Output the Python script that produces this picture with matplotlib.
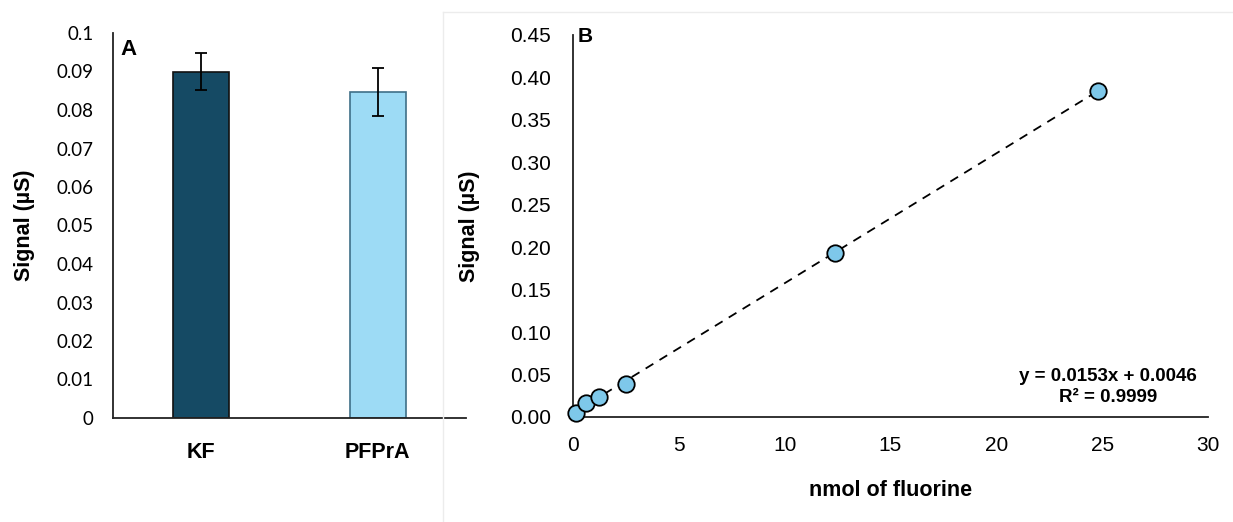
import matplotlib
matplotlib.use("Agg")
import matplotlib.pyplot as plt
from matplotlib.lines import Line2D
import numpy as np
from matplotlib import font_manager

# ---- data ----
bar_categories = ["KF", "PFPrA"]
bar_values = [0.090, 0.0847]
bar_errors = [0.0048, 0.0063]
bar_yticks = [0, 0.01, 0.02, 0.03, 0.04, 0.05, 0.06, 0.07, 0.08, 0.09, 0.1]
bar_yticklabels = ["0", "0.01", "0.02", "0.03", "0.04", "0.05", "0.06", "0.07", "0.08", "0.09", "0.1"]

cal_x = [0.16, 0.62, 1.25, 2.5, 12.4, 24.8]
cal_y = [0.005, 0.016, 0.023, 0.039, 0.193, 0.384]
cal_err = [0.0, 0.0, 0.0, 0.0, 0.002, 0.004]
fit_slope = 0.0153
fit_intercept = 0.0046
cal_xticks = [0, 5, 10, 15, 20, 25, 30]
cal_yticks = [0.00, 0.05, 0.10, 0.15, 0.20, 0.25, 0.30, 0.35, 0.40, 0.45]

names = {f.name for f in font_manager.fontManager.ttflist}
narrow = "Liberation Sans Narrow" if "Liberation Sans Narrow" in names else "Liberation Sans"
humanist = "Lato" if "Lato" in names else "DejaVu Sans"

W, H = 1233, 522
fig = plt.figure(figsize=(W / 100, H / 100), dpi=100)

def ax_rect(x0, x1, ytop, ybot):
    return [x0 / W, 1 - ybot / H, (x1 - x0) / W, (ybot - ytop) / H]

# ---- panel A ----
axA = fig.add_axes(ax_rect(113, 466, 33, 418))
xpos = np.arange(len(bar_categories))
axA.bar(xpos, bar_values, width=0.32, color=["#154a64", "#9ddbf5"],
        edgecolor=["#111111", "#3f6f88"], linewidth=1.2, zorder=2)
axA.errorbar(xpos, bar_values, yerr=bar_errors, fmt="none", ecolor="black",
             elinewidth=1.3, capsize=4, capthick=1.3, zorder=3)
axA.set_xlim(-0.5, 1.5)
axA.set_ylim(0, 0.1)
axA.set_yticks(bar_yticks)
axA.set_yticklabels(bar_yticklabels, fontfamily=humanist, fontsize=13.5)
axA.set_xticks(xpos)
axA.set_xticklabels(bar_categories, fontfamily="Liberation Sans", fontweight="bold", fontsize=15.5)
axA.tick_params(axis="both", length=0)
axA.tick_params(axis="y", pad=14)
axA.tick_params(axis="x", pad=17)
for s in ["top", "right"]:
    axA.spines[s].set_visible(False)
for s in ["left", "bottom"]:
    axA.spines[s].set_linewidth(1.3)
    axA.spines[s].set_color("#222222")
axA.set_ylabel("Signal (µS)", fontfamily="Liberation Sans", fontweight="bold", fontsize=15.5)
axA.yaxis.set_label_coords(-0.222, 0.5)
axA.text(0.02, 0.985, "A", transform=axA.transAxes, fontfamily="Liberation Sans",
         fontweight="bold", fontsize=16, va="top", ha="left")

# ---- panel B ----
axB = fig.add_axes(ax_rect(573, 1208, 35, 417))
fx = np.array([cal_x[0], cal_x[-1]])
axB.plot(fx, fit_slope * fx + fit_intercept, linestyle=(0, (5, 4)), color="black",
         linewidth=1.3, zorder=2, clip_on=False)
axB.errorbar(cal_x, cal_y, yerr=cal_err, fmt="none", ecolor="#333333", elinewidth=1.2,
             capsize=0, zorder=3)
axB.scatter(cal_x, cal_y, s=140, facecolor="#7ec8ea", edgecolor="black", linewidth=1.3,
            zorder=4, clip_on=False)
axB.set_xlim(0, 30)
axB.set_ylim(0, 0.45)
axB.set_xticks(cal_xticks)
axB.set_xticklabels([str(v) for v in cal_xticks], fontfamily=narrow, fontsize=15)
axB.set_yticks(cal_yticks)
axB.set_yticklabels([f"{v:.2f}" for v in cal_yticks], fontfamily=narrow, fontsize=15)
axB.tick_params(axis="both", length=0)
axB.tick_params(axis="y", pad=16)
axB.tick_params(axis="x", pad=14)
for s in ["top", "right"]:
    axB.spines[s].set_visible(False)
for s in ["left", "bottom"]:
    axB.spines[s].set_linewidth(1.3)
    axB.spines[s].set_color("#222222")
axB.set_ylabel("Signal (µS)", fontfamily="Liberation Sans", fontweight="bold", fontsize=15.5)
axB.yaxis.set_label_coords(-0.146, 0.5)
axB.set_xlabel("nmol of fluorine", fontfamily="Liberation Sans", fontweight="bold", fontsize=15.5)
axB.xaxis.set_label_coords(0.5, -0.165)
axB.text(0.008, 1.02, "B", transform=axB.transAxes, fontfamily="Liberation Sans",
         fontweight="bold", fontsize=15, va="top", ha="left")
axB.text(0.843, 0.079, f"y = {fit_slope}x + {fit_intercept}\nR² = 0.9999", transform=axB.transAxes,
         fontfamily="Liberation Sans", fontweight="bold", fontsize=13.5, ha="center", va="center",
         linespacing=1.3)

# panel separator lines
fig.add_artist(Line2D([443 / W, 443 / W], [0, 1 - 12 / H], transform=fig.transFigure,
                      color="#ececec", linewidth=1))
fig.add_artist(Line2D([443 / W, 1], [1 - 12 / H, 1 - 12 / H], transform=fig.transFigure,
                      color="#ececec", linewidth=1))

fig.savefig("out.png", dpi=100, facecolor="white")
